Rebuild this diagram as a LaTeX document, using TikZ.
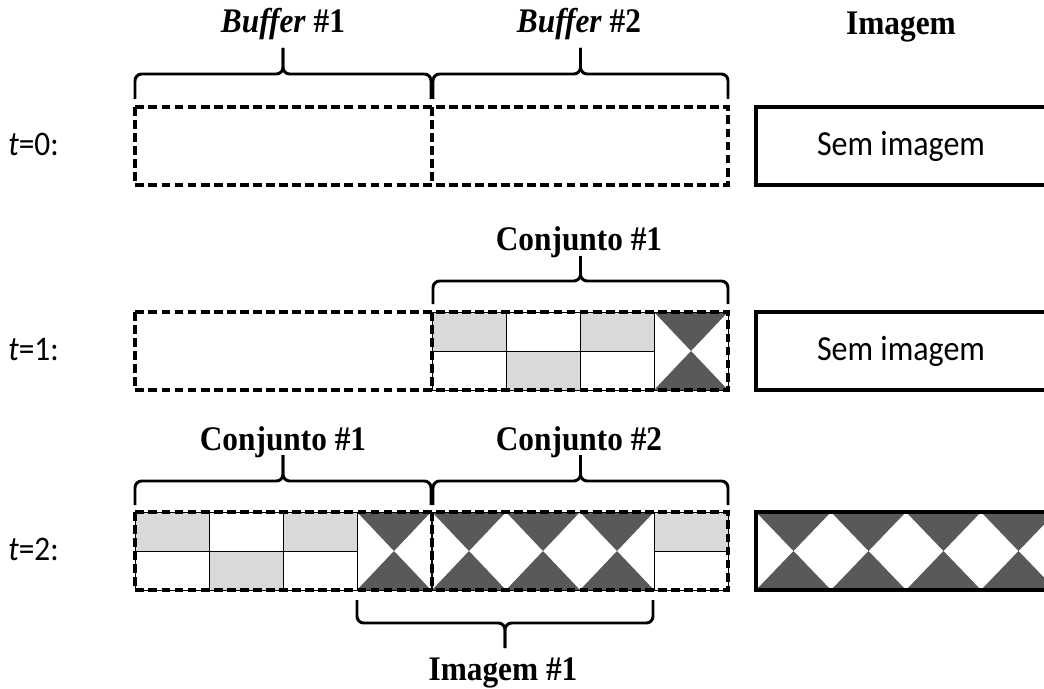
\documentclass[tikz,border=0pt]{standalone}
\usepackage{graphicx}
\usepackage{fontspec}
\setmainfont{Liberation Serif}
\newfontfamily\calib{Carlito}
\definecolor{lgray}{HTML}{D9D9D9}
\definecolor{dgray}{HTML}{595959}
\newcommand\vs[1]{\scalebox{1}[1.1]{#1}}
\newcommand\hourglass[3]{%
  \fill[dgray] (#1,#2) -- (#1+#3,#2) -- (#1+#3/2,#2+39) -- cycle;
  \fill[dgray] (#1,#2+78) -- (#1+#3,#2+78) -- (#1+#3/2,#2+39) -- cycle;}
\newcommand\groupA[2]{%
  \fill[lgray] (#1,#2) rectangle (#1+74,#2+39);
  \fill[lgray] (#1+74,#2+39) rectangle (#1+148,#2+78);
  \fill[lgray] (#1+148,#2) rectangle (#1+222,#2+39);
  \hourglass{#1+222}{#2}{74}
  \draw[thinline] (#1,#2+39) -- (#1+222,#2+39);
  \draw[thinline] (#1+74,#2) -- (#1+74,#2+78);
  \draw[thinline] (#1+148,#2) -- (#1+148,#2+78);
  \draw[thinline] (#1+222,#2) -- (#1+222,#2+78);
  \draw[thinline] (#1,#2) rectangle (#1+296,#2+78);}
\newcommand\mybrace[5]{%
  \draw[bracepath] (#1,#3) -- (#1,#4) -- ({(#1+#2)/2},#4) -- ({(#1+#2)/2},#5);
  \draw[bracepath] (#2,#3) -- (#2,#4) -- ({(#1+#2)/2},#4) -- ({(#1+#2)/2},#5);}
\begin{document}
\begin{tikzpicture}[x=0.75pt,y=-0.75pt,
  dashbox/.style={draw=black, line width=2.6pt, dash pattern=on 6.6pt off 3.2pt},
  imgbox/.style={draw=black, line width=2.4pt},
  bracepath/.style={draw=black, line width=2.2pt, rounded corners=5pt},
  thinline/.style={draw=black, line width=0.75pt},
  lab/.style={font=\fontsize{23.5}{27}\selectfont\bfseries, anchor=base, inner sep=0pt},
  tlab/.style={font=\calib\fontsize{23.5}{27}\selectfont, anchor=base west, inner sep=0pt},
  sem/.style={font=\calib\fontsize{24}{27}\selectfont, inner sep=0pt}]
\useasboundingbox (0,0) rectangle (1044,688);
\fill[white] (0,0) rectangle (1044,688);
\clip (0,0) rectangle (1044,688);

% ---- titles
\node[lab] (b1) at (283,33) {\vs{\textit{Buffer} \#1}};
\node[lab] (b2) at (579,33) {\vs{\textit{Buffer} \#2}};
\node[lab] (im) at (901,35) {\vs{Imagem}};

% ---- row t=0
\node[tlab] (t0) at (8,155) {\vs{\textit{t}=0:}};
\mybrace{135}{431}{99}{74}{48}
\mybrace{433}{728}{99}{74}{48}
\draw[dashbox] (135,107) rectangle (728,185);
\draw[dashbox] (432,107) -- (432,185);
\draw[imgbox] (756,107) rectangle (1080,185);
\node[sem] (s0) at (901,146) {\vs{Sem imagem}};

% ---- row t=1
\node[lab] (c11) at (579,250) {\vs{Conjunto \#1}};
\node[tlab] (t1) at (8,360) {\vs{\textit{t}=1:}};
\mybrace{433}{728}{304}{281}{256}
\groupA{432}{312}
\draw[dashbox] (135,312) rectangle (728,390);
\draw[dashbox] (432,312) -- (432,390);
\draw[imgbox] (756,312) rectangle (1080,390);
\node[sem] (s1) at (901,351) {\vs{Sem imagem}};

% ---- row t=2
\node[lab] (c21) at (283,450) {\vs{Conjunto \#1}};
\node[lab] (c22) at (579,450) {\vs{Conjunto \#2}};
\node[tlab] (t2) at (8,560) {\vs{\textit{t}=2:}};
\mybrace{135}{431}{505}{481}{455}
\mybrace{433}{728}{505}{481}{455}
\groupA{135}{512}
\hourglass{432}{512}{74}
\hourglass{506}{512}{74}
\hourglass{580}{512}{74}
\fill[lgray] (654,512) rectangle (728,551);
\draw[thinline] (654,512) -- (654,590);
\draw[thinline] (654,551) -- (728,551);
\draw[thinline] (432,512) rectangle (728,590);
\draw[dashbox] (135,512) rectangle (728,590);
\draw[dashbox] (432,512) -- (432,590);
\foreach \k in {0,1,2,3} {\hourglass{756+75*\k}{512}{75}}
\draw[imgbox] (756,512) rectangle (1080,590);

% ---- bottom brace
\mybrace{357}{653}{600}{623}{648}
\node[lab] (im1) at (503,680) {\vs{Imagem \#1}};
\end{tikzpicture}
\end{document}
